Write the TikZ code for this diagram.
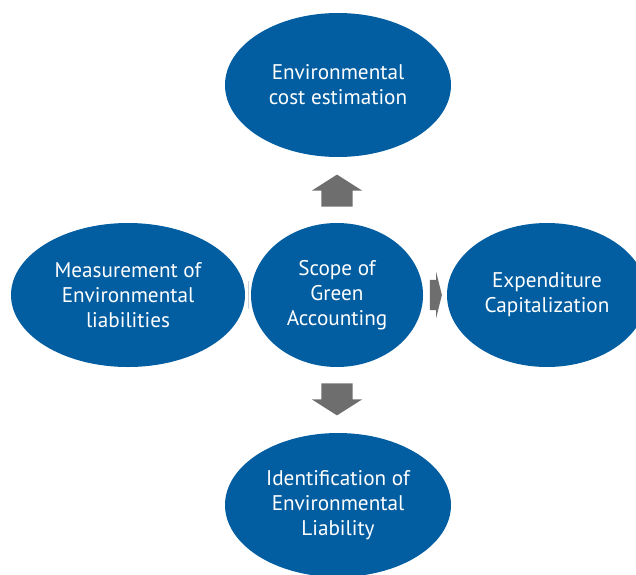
\documentclass[tikz,border=0pt]{standalone}
\usepackage{fontspec}
\setmainfont{PT Sans}
\usetikzlibrary{shapes.geometric,shapes.arrows,calc}
\definecolor{bubbleblue}{RGB}{2,94,161}
\definecolor{arrowgray}{RGB}{110,110,110}

\begin{document}
\begin{tikzpicture}
  [x=1pt,y=1pt,
   bubble/.style={ellipse,fill=bubbleblue,text=white,inner sep=0pt,
     minimum height=144pt,align=center,font=\fontsize{21.2}{25}\selectfont},
   fatarrow/.style={single arrow,fill=arrowgray,inner xsep=0pt,inner ysep=15.5pt,
     minimum height=32pt,single arrow head extend=9.5pt,single arrow tip angle=115,anchor=tail},
   thinarrow/.style={single arrow,fill=arrowgray,inner xsep=0pt,inner ysep=15pt,
     minimum height=12pt,single arrow head extend=8pt,single arrow tip angle=152,anchor=tail}]
  \useasboundingbox (0,0) rectangle (636,574);

  \node[bubble,minimum width=172pt] (scope) at (337,279) {Scope of\\Green\\Accounting};
  \node[bubble,minimum width=226pt] (cost)  at (338,489) {Environmental\\cost estimation};
  \node[bubble,minimum width=226pt] (ident) at (338,69)  {Identification of\\Environmental\\Liability};
  \node[bubble,minimum width=234pt] (meas)  at (128,279) {Measurement of\\Environmental\\liabilities};
  \node[bubble,minimum width=200pt] (capex) at (547,279) {Expenditure\\Capitalization};

  % arrows between the bubbles
  \node[fatarrow,rotate=90]  (up)    at ([yshift=16pt]scope.north) {};
  \node[fatarrow,rotate=-90] (down)  at ([yshift=-16pt]scope.south) {};
  \node[thinarrow]           (right) at ([xshift=6.5pt]scope.east) {};
  \coordinate (left) at ($(meas.east)!0.5!(scope.west)$);
  \draw[bubbleblue!20!gray!35,line width=1pt] ([yshift=14pt]left) -- ([yshift=-14pt]left);

\end{tikzpicture}
\end{document}
